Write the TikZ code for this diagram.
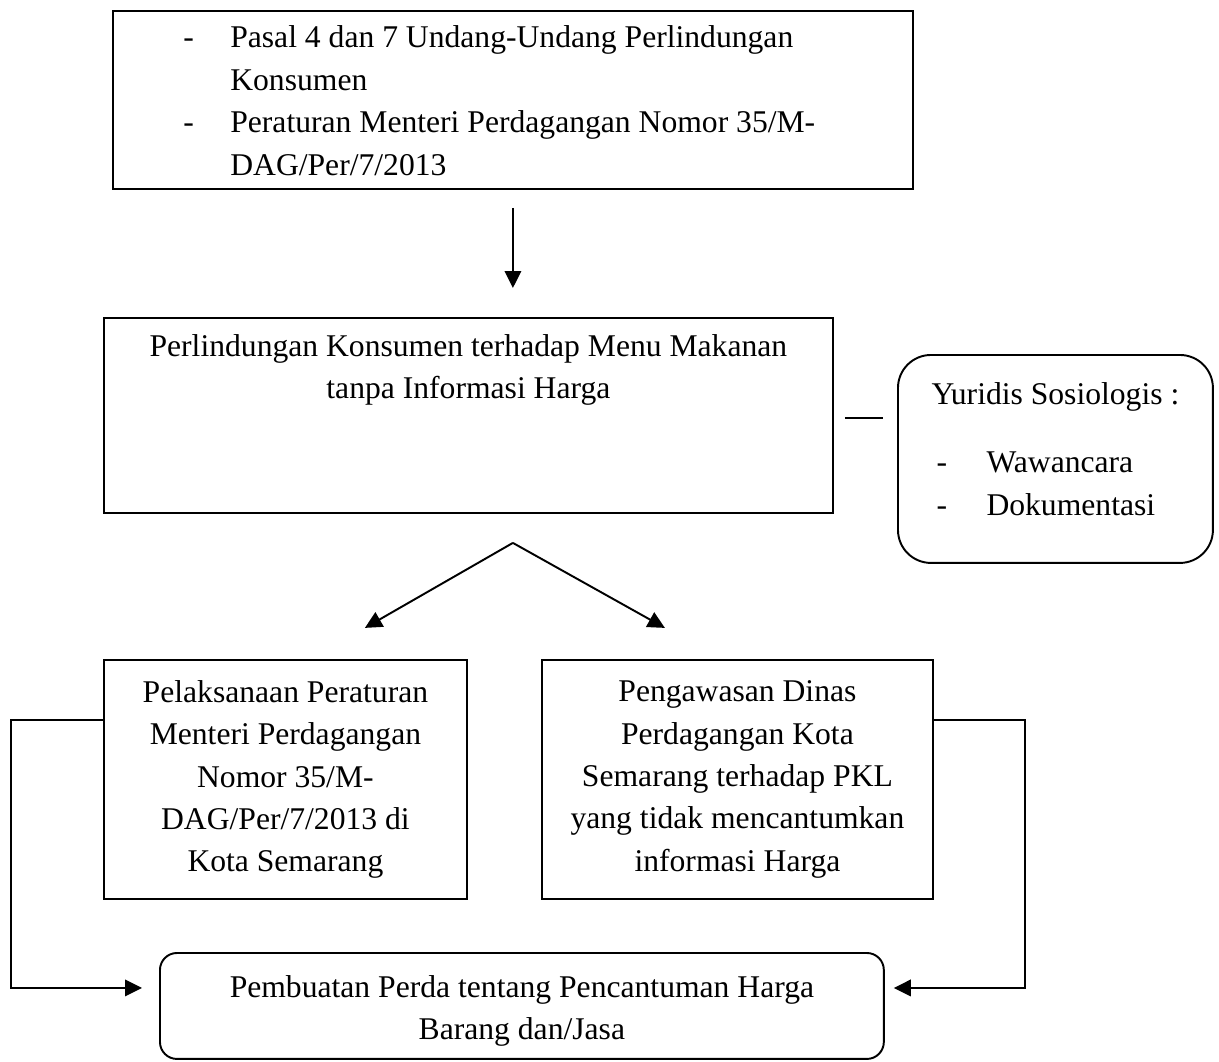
\documentclass[tikz,border=0pt]{standalone}
\usepackage{fontspec}
\setmainfont{Liberation Serif}
\usetikzlibrary{arrows.meta,calc}

\begin{document}
\begin{tikzpicture}[x=0.02cm,y=-0.02cm,
	font=\fontsize{18}{24.1}\selectfont,
	kotak/.style={draw,line width=1.1pt,rectangle,inner sep=0pt,anchor=north west},
	kotakbulat/.style={kotak,rounded corners=#1},
	panah/.style={line width=1.1pt,-{Triangle[length=0.34cm,width=0.33cm]}}]
	\useasboundingbox (0,0) rectangle (1219,1061);
	
	%Dasar hukum
	\node[kotak,minimum width=16cm,minimum height=3.56cm] (dasar) at (112,10) {};
	\node[anchor=north west,inner sep=0pt] (dasarteks) at (183,18) {\begin{tabular}{@{}p{0.94cm}@{}l@{}}
		- & Pasal 4 dan 7 Undang-Undang Perlindungan\\
		  & Konsumen\\
		- & Peraturan Menteri Perdagangan Nomor 35/M-\\
		  & DAG/Per/7/2013
	\end{tabular}};
	
	%Pokok masalah
	\node[kotak,minimum width=14.58cm,minimum height=3.9cm,align=center,text depth=1.97cm] (pokok) at (103,317) {Perlindungan Konsumen terhadap Menu Makanan\\tanpa Informasi Harga};
	\draw[panah] ($(dasar.south)+(0,18)$) -- ($(dasar.south |- pokok.north)+(0,-29)$);
	
	%Yuridis sosiologis
	\node[kotakbulat=0.66cm,minimum width=6.3cm,minimum height=4.16cm] (yuridis) at (897,354) {\begin{tabular}{@{}p{1.1cm}@{}l@{}}
		\multicolumn{2}{@{}l@{}}{Yuridis Sosiologis :}\\[0.52cm]
		\hspace{0.1cm}- & Wawancara\\
		\hspace{0.1cm}- & Dokumentasi\\[0.3cm]
	\end{tabular}};
	\draw[line width=1.1pt] ($(pokok.east)+(11,3)$) -- ($(yuridis.west |- pokok.east)+(-14,3)$);
	
	%Cabang
	\coordinate (puncak) at ($(dasar.south |- pokok.south)+(0,29)$);
	\coordinate (ujungkiri) at ($(puncak)+(-148,85)$);
	\coordinate (ujungkanan) at ($(puncak)+(152,85)$);
	\draw[panah] (puncak) -- (ujungkiri);
	\draw[panah] (puncak) -- (ujungkanan);
	
	%Pelaksanaan dan pengawasan
	\node[kotak,minimum width=7.26cm,minimum height=4.78cm,align=center] (pelaksanaan) at (103,659) {Pelaksanaan Peraturan\\Menteri Perdagangan\\Nomor 35/M-\\DAG/Per/7/2013 di\\Kota Semarang};
	\node[kotak,minimum width=7.82cm,minimum height=4.78cm,align=center] (pengawasan) at (541,659) {Pengawasan Dinas\\Perdagangan Kota\\Semarang terhadap PKL\\yang tidak mencantumkan\\informasi Harga};
	
	%Perda
	\node[kotakbulat=0.34cm,minimum width=14.48cm,minimum height=2.12cm,align=center,text height=1.49cm] (pembuatan) at (159,952) {Pembuatan Perda tentang Pencantuman Harga\\Barang dan/Jasa};
	\draw[panah] ($(pelaksanaan.north west)+(0,61)$) -- ++(-92,0) |- ($(pembuatan.west)+(-17,-18)$);
	\draw[panah] ($(pengawasan.north east)+(0,61)$) -- ++(91,0) |- ($(pembuatan.east)+(9,-18)$);
	
\end{tikzpicture}
\end{document}
